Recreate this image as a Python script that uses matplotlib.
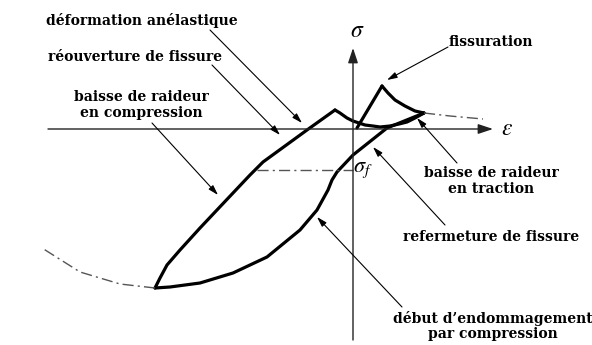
import matplotlib
matplotlib.use("Agg")
import matplotlib.pyplot as plt

plt.rcParams["mathtext.fontset"] = "stix"

# Schematic (eps, sigma) curve, arbitrary units
tension_eps = [4, 29]
tension_sig = [0, 42]

soft_eps = [29, 35, 42, 52, 62, 71]
soft_sig = [42, 35, 28, 22, 17, 15]

unload_comp_eps = [71, 34, 0, -16, -21, -25, -36, -53, -86, -120, -153, -183, -198]
unload_comp_sig = [15, 0, -27, -44, -52, -62, -82, -102, -129, -145, -155, -159, -160]

reload_eps = [-198, -193, -186, -173, -153, -120, -103, -90, -68, -46, -18]
reload_sig = [-160, -150, -137, -122, -100, -65, -47, -34, -18, -2, 18]

reopen_eps = [-18, -13, -6, 0, 6, 12, 20, 27, 37, 46, 54, 62, 71]
reopen_sig = [18, 15, 10, 7, 5, 3, 2, 1, 2, 4, 6, 10, 15]

soft_ext_eps = [71, 97, 130]
soft_ext_sig = [15, 12, 9]

comp_ext_eps = [-198, -233, -273, -311]
comp_ext_sig = [-160, -156, -144, -120]

sigma_f = -42
sigma_f_eps = [-96, 0]

fig = plt.figure(figsize=(5.92, 3.45), dpi=100)
ax = fig.add_axes([0, 0, 1, 1])
ax.set_xlim(-353, 239)
ax.set_ylim(-217, 128)
ax.axis("off")

lw = 2.3
kw = dict(color="black", lw=lw, solid_joinstyle="round", solid_capstyle="round")
ax.plot(tension_eps, tension_sig, **kw)
ax.plot(soft_eps, soft_sig, **kw)
ax.plot(unload_comp_eps, unload_comp_sig, **kw)
ax.plot(reload_eps, reload_sig, **kw)
ax.plot(reopen_eps, reopen_sig, **kw)

dd = dict(color="#555555", lw=1.0, ls=(0, (8, 3, 1.5, 3)))
ax.plot(soft_ext_eps, soft_ext_sig, **dd)
ax.plot(comp_ext_eps, comp_ext_sig, **dd)
ax.plot(sigma_f_eps, [sigma_f, sigma_f], **dd)

# axes
ax.annotate("", xy=(140, -1), xytext=(-305, -1),
            arrowprops=dict(arrowstyle="-|>,head_length=0.9,head_width=0.3",
                            color="#222222", lw=1.0, shrinkA=0, shrinkB=0))
ax.annotate("", xy=(0, 80), xytext=(0, -212),
            arrowprops=dict(arrowstyle="-|>,head_length=0.9,head_width=0.3",
                            color="#222222", lw=1.0, shrinkA=0, shrinkB=0))

ax.text(4, 98, r"$\sigma$", fontsize=17, ha="center", va="center")
ax.text(154, 0, r"$\varepsilon$", fontsize=17, ha="center", va="center")
ax.text(10, -42, r"$\sigma_f$", fontsize=16, ha="center", va="center")

font = dict(family="DejaVu Serif", fontweight="bold", fontsize=10)
ap = dict(arrowstyle="-|>,head_length=0.6,head_width=0.18", color="black",
          lw=0.8, shrinkA=0, shrinkB=0)


def label(text, xy_text, xy_tip, tail):
    ax.text(xy_text[0], xy_text[1], text, ha="center", va="center",
            linespacing=1.15, **font)
    ax.annotate("", xy=xy_tip, xytext=tail, arrowprops=ap)


label("déformation anélastique", (-211, 108), (-51, 5), (-143, 98))
label("réouverture de fissure", (-218, 71), (-73, -7), (-141, 63))
label("baisse de raideur\nen compression", (-212, 23), (-135, -67), (-201, 5))
label("fissuration", (138, 86), (34, 48), (95, 81))
label("baisse de raideur\nen traction", (138, -53), (64, 10), (104, -35))
label("refermeture de fissure", (138, -109), (20, -19), (92, -97))
label("début d’endommagement\npar compression", (140, -198), (-36, -89), (49, -179))

fig.savefig("out.png", dpi=100)
